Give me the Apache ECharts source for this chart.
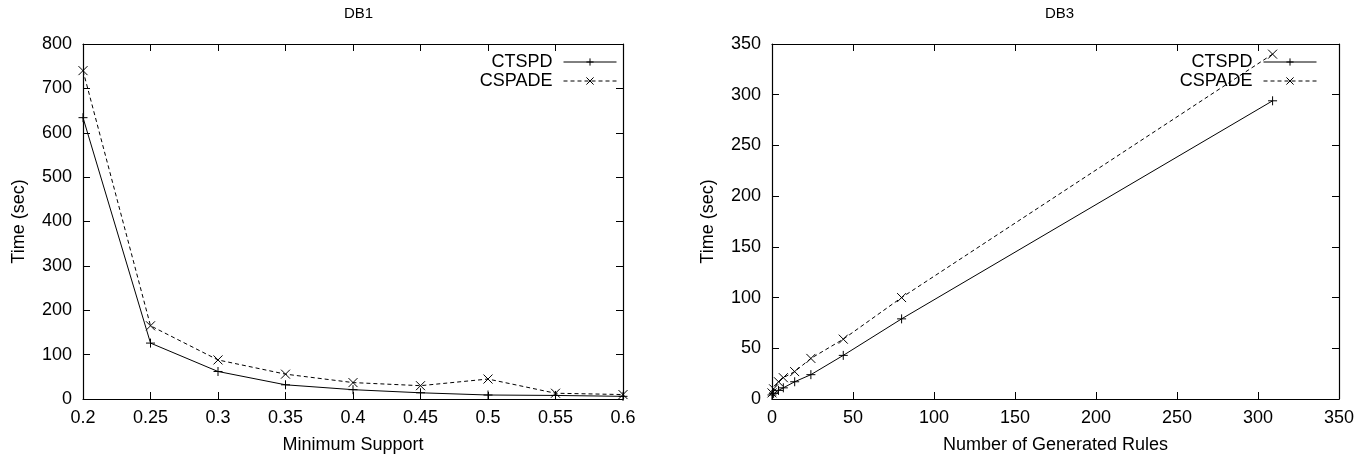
<!DOCTYPE html>
<html>
<head>
<meta charset="utf-8">
<script src="https://cdn.jsdelivr.net/npm/echarts@6/dist/echarts.min.js"></script>
<style>
html,body{margin:0;padding:0;background:#fff;}
#c{width:1371px;height:459px;}
</style>
</head>
<body>
<div id="c"></div>
<script>
// DB1: time vs minimum support
var supportValues = [0.2, 0.25, 0.3, 0.35, 0.4, 0.45, 0.5, 0.55, 0.6];
var db1Ctspd = [634, 126, 62, 32, 21, 14, 9, 8, 6];
var db1Cspade = [740, 165, 88, 56, 37, 30, 45, 13, 10];

// DB3: time vs number of generated rules
var rulesValues = [0, 1, 4, 7, 14, 24, 44, 80, 309];
var db3Ctspd = [4, 5.5, 8.5, 11, 17, 24, 43, 79, 294];
var db3Cspade = [6, 10, 17, 21, 27, 40, 59, 100, 340];

var seriesNames = ['CTSPD', 'CSPADE'];
var panelTitles = ['DB1', 'DB3'];
var xTitles = ['Minimum Support', 'Number of Generated Rules'];
var yTitle = 'Time (sec)';

function pairs(xs, ys) { return xs.map(function (x, i) { return [x, ys[i]]; }); }

var FONT = '"Liberation Sans", Arial, Helvetica, sans-serif';
var plusPath = 'path://M0,5L10,5M5,0L5,10';
var crossPath = 'path://M0,0L10,10M0,10L10,0';

var chart = echarts.init(document.getElementById('c'), null, {renderer: 'canvas'});

function bottomX(gi, min, max, interval, name, fmt) {
  return {
    gridIndex: gi, type: 'value', min: min, max: max, interval: interval,
    position: 'bottom',
    name: name, nameLocation: 'middle', nameGap: 37,
    nameTextStyle: {color: '#000', fontSize: 18, fontFamily: FONT},
    axisLine: {show: true, onZero: false, lineStyle: {color: '#000', width: 1.2}},
    axisTick: {show: true, inside: true, length: 7, lineStyle: {color: '#000'}},
    axisLabel: {color: '#000', fontSize: 18, fontFamily: FONT, margin: 10, formatter: fmt, showMinLabel: true, showMaxLabel: true},
    splitLine: {show: false}
  };
}
function topX(gi, min, max, interval) {
  return {
    gridIndex: gi, type: 'value', min: min, max: max, interval: interval,
    position: 'top',
    axisLine: {show: true, onZero: false, lineStyle: {color: '#000', width: 1.2}},
    axisTick: {show: true, inside: true, length: 7, lineStyle: {color: '#000'}},
    axisLabel: {show: false},
    splitLine: {show: false}
  };
}
function leftY(gi, min, max, interval) {
  return {
    gridIndex: gi, type: 'value', min: min, max: max, interval: interval,
    position: 'left',
    name: yTitle, nameLocation: 'middle', nameGap: 55, nameRotate: 90,
    nameTextStyle: {color: '#000', fontSize: 18, fontFamily: FONT},
    axisLine: {show: true, onZero: false, lineStyle: {color: '#000', width: 1.2}},
    axisTick: {show: true, inside: true, length: 7, lineStyle: {color: '#000'}},
    axisLabel: {color: '#000', fontSize: 18, fontFamily: FONT, margin: 11},
    splitLine: {show: false}
  };
}
function rightY(gi, min, max, interval) {
  return {
    gridIndex: gi, type: 'value', min: min, max: max, interval: interval,
    position: 'right',
    axisLine: {show: true, onZero: false, lineStyle: {color: '#000', width: 1.2}},
    axisTick: {show: true, inside: true, length: 7, lineStyle: {color: '#000'}},
    axisLabel: {show: false},
    splitLine: {show: false}
  };
}

function lineSeries(name, data, xi, yi, dashed) {
  return {
    type: 'line', name: name, xAxisIndex: xi, yAxisIndex: yi,
    data: data,
    symbol: dashed ? crossPath : plusPath,
    symbolSize: 9,
    showSymbol: true,
    itemStyle: {color: '#000', borderColor: '#000', borderWidth: 1},
    lineStyle: {color: '#000', width: 1, type: dashed ? [4, 3] : 'solid'},
    emphasis: {disabled: true},
    animation: false,
    z: dashed ? 3 : 4
  };
}

function legendFor(name, top, right) {
  return {
    data: [name], top: top, right: right, orient: 'vertical', align: 'right',
    padding: 0, itemWidth: 53, itemHeight: 9, itemGap: 0,
    selectedMode: false,
    lineStyle: {width: 1},
    itemStyle: {borderWidth: 1},
    textStyle: {color: '#000', fontSize: 18, fontFamily: FONT, padding: [0, 6, 0, 0]}
  };
}

var fmtSupport = function (v) { return String(Math.round(v * 100) / 100); };

var option = {
  backgroundColor: '#fff',
  animation: false,
  title: [
    {text: panelTitles[0], left: 344, top: 6, padding: 0, textStyle: {color: '#000', fontSize: 15, fontWeight: 'normal', fontFamily: FONT}},
    {text: panelTitles[1], left: 1045, top: 6, padding: 0, textStyle: {color: '#000', fontSize: 15, fontWeight: 'normal', fontFamily: FONT}}
  ],
  grid: [
    {left: 83, top: 44, width: 540, height: 358, containLabel: false},
    {left: 772, top: 44, width: 567, height: 358, containLabel: false}
  ],
  xAxis: [
    bottomX(0, 0.2, 0.6, 0.05, xTitles[0], fmtSupport),
    topX(0, 0.2, 0.6, 0.05),
    bottomX(1, 0, 350, 50, xTitles[1], null),
    topX(1, 0, 350, 50)
  ],
  yAxis: [
    leftY(0, 0, 800, 100),
    rightY(0, 0, 800, 100),
    leftY(1, 0, 350, 50),
    rightY(1, 0, 350, 50)
  ],
  legend: [
    legendFor(seriesNames[0], 53, 754),
    legendFor(seriesNames[1], 72, 754),
    legendFor(seriesNames[0], 53, 54),
    legendFor(seriesNames[1], 72, 54)
  ],
  series: [
    lineSeries(seriesNames[0], pairs(supportValues, db1Ctspd), 0, 0, false),
    lineSeries(seriesNames[1], pairs(supportValues, db1Cspade), 0, 0, true),
    lineSeries(seriesNames[0], pairs(rulesValues, db3Ctspd), 2, 2, false),
    lineSeries(seriesNames[1], pairs(rulesValues, db3Cspade), 2, 2, true)
  ]
};
chart.setOption(option);
</script>
</body>
</html>
